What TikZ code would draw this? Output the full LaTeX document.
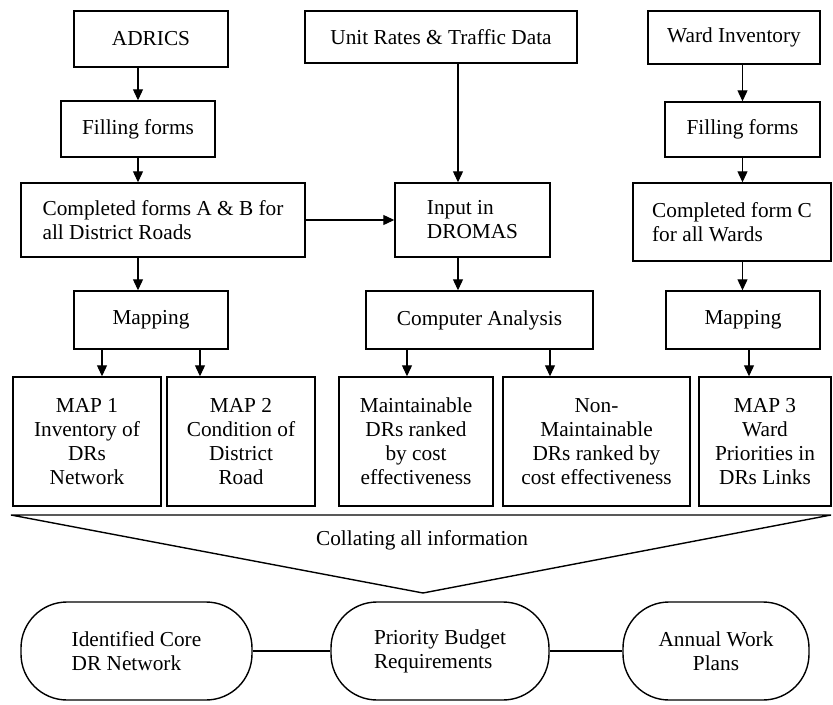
\documentclass[tikz,border=0pt]{standalone}
\usepackage{fontspec}
\setmainfont{Liberation Serif}
\usetikzlibrary{arrows.meta, positioning}

\begin{document}
\begin{tikzpicture}[x=1bp, y=-1bp,
  font=\fontsize{21.3bp}{24bp}\selectfont,
  box/.style={draw, line width=1.4pt, inner sep=0pt, align=center},
  pill/.style={box, rounded corners=46bp, minimum height=98bp},
  arr/.style={-{Triangle[length=11bp, width=10bp]}, line width=1.1pt}]
  \useasboundingbox (0,0) rectangle (833,705);
  \node[box, minimum width=154bp, minimum height=56bp] (adrics) at (151,39) {ADRICS};
  \node[box, minimum width=272bp, minimum height=52bp] (rates) at (441,37) {Unit Rates \& Traffic Data};
  \node[box, minimum width=172bp, minimum height=53bp] (ward) at (734,37.5) {Ward Inventory};
  \node[box, minimum width=154bp, minimum height=56bp] (fillA) at (138,129) {Filling forms};
  \node[box, minimum width=155bp, minimum height=55bp] (fillC) at (742.5,129.5) {Filling forms};
  \node[box, align=left, minimum width=284bp, minimum height=74bp] (formAB) at (163,220)
        {Completed forms A \& B for\\all District Roads};
  \node[box, align=left, minimum width=155bp, minimum height=74bp] (dromas) at (472.5,220)
        {Input in\\DROMAS};
  \node[box, align=left, minimum width=198bp, minimum height=78bp] (formC) at (732,222)
        {Completed form C\\for all Wards};
  \node[box, minimum width=154bp, minimum height=58bp] (mapL) at (151,320) {Mapping};
  \node[box, minimum width=227bp, minimum height=58bp] (comp) at (479.5,320) {Computer Analysis};
  \node[box, minimum width=154bp, minimum height=58bp] (mapR) at (743,320) {Mapping};
  \node[box, minimum width=148bp, minimum height=129bp] (map1) at (87,441.5)
        {MAP 1\\Inventory of\\DRs\\Network};
  \node[box, minimum width=148bp, minimum height=129bp] (map2) at (241,441.5)
        {MAP 2\\Condition of\\District\\Road};
  \node[box, minimum width=154bp, minimum height=129bp] (maint) at (416,441.5)
        {Maintainable\\DRs ranked\\by cost\\effectiveness};
  \node[box, minimum width=187bp, minimum height=129bp] (nonmaint) at (596.5,441.5)
        {Non-\\Maintainable\\DRs ranked by\\cost effectiveness};
  \node[box, minimum width=132bp, minimum height=129bp] (map3) at (765,441.5)
        {MAP 3\\Ward\\Priorities in\\DRs Links};
  \coordinate (funL) at (11,515);
  \coordinate (funR) at (831,515);
  \coordinate (funTip) at (423,593);
  \node (collate) at (422,540) {Collating all information};
  \node[pill, align=left, minimum width=231bp] (core) at (136.5,651) {Identified Core\\DR Network};
  \node[pill, align=left, minimum width=218bp] (budget) at (440,651) {Priority Budget\\Requirements};
  \node[pill, minimum width=186bp] (plans) at (716,651) {Annual Work\\Plans};
  \draw[arr] (adrics.south -| fillA.north) -- (fillA.north);
  \draw[arr] (fillA.south) -- (fillA.south |- formAB.north);
  \draw[arr] (formAB.south -| fillA.south) -- (mapL.north -| fillA.south);
  \draw[arr] (formAB.east) -- (dromas.west);
  \draw[arr] ([xshift=-14.5bp]dromas.north |- rates.south) -- ([xshift=-14.5bp]dromas.north);
  \draw[arr] ([xshift=-14.5bp]dromas.south) -- ([xshift=-14.5bp]dromas.south |- comp.north);
  \draw[arr] (ward.south -| fillC.north) -- (fillC.north);
  \draw[arr] (fillC.south) -- (fillC.south |- formC.north);
  \draw[arr] (formC.south -| fillC.south) -- (mapR.north -| fillC.south);
  \draw[arr] ([xshift=-49bp]mapL.south) -- ([xshift=-49bp]mapL.south |- map1.north);
  \draw[arr] ([xshift=49bp]mapL.south) -- ([xshift=49bp]mapL.south |- map2.north);
  \draw[arr] ([xshift=-72.5bp]comp.south) -- ([xshift=-72.5bp]comp.south |- maint.north);
  \draw[arr] ([xshift=70.5bp]comp.south) -- ([xshift=70.5bp]comp.south |- nonmaint.north);
  \draw[arr] ([xshift=6bp]mapR.south) -- ([xshift=6bp]mapR.south |- map3.north);
  \draw[line width=1.4pt, line join=miter] (funL) -- (funR) -- (funTip) -- cycle;
  \draw[line width=1.2pt] (core.east) -- (budget.west);
  \draw[line width=1.2pt] (budget.east) -- (plans.west);
\end{tikzpicture}
\end{document}
